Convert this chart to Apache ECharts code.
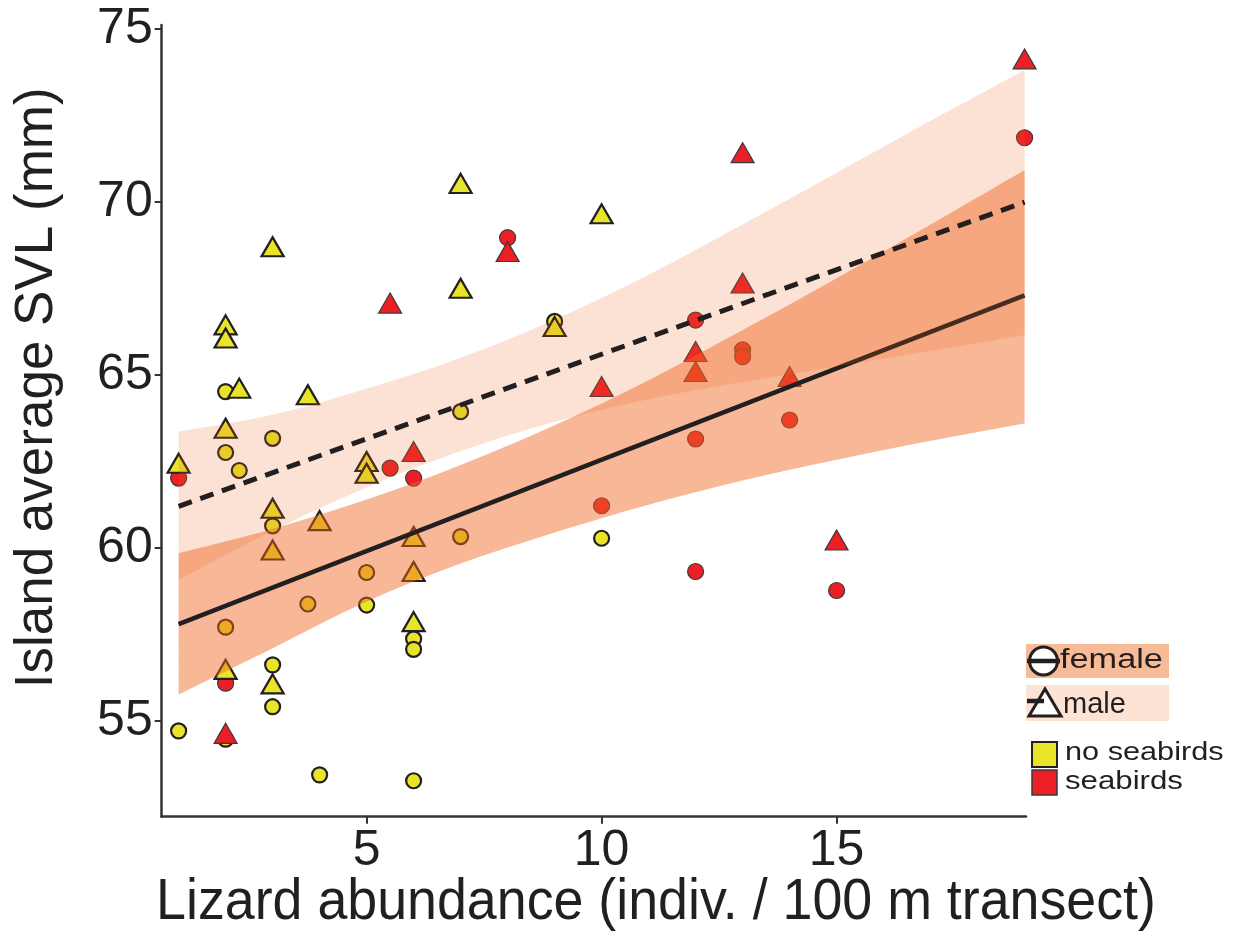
<!DOCTYPE html>
<html>
<head>
<meta charset="utf-8">
<script src="https://cdn.jsdelivr.net/npm/echarts@6/dist/echarts.min.js"></script>
<style>
html, body { margin: 0; padding: 0; background: #fff; }
#echart { width: 1243px; height: 937px; }
</style>
</head>
<body>
<div id="echart"></div>
<script>
var FONT = '"Liberation Sans", Arial, Helvetica, sans-serif';
var INK = '#231f20';
var YELLOW = '#e7e42a';
var RED = '#ec1f26';

// females (circles), [abundance, SVL]
var femaleNoSeabirds = [
    [1, 54.71], [2, 64.52], [2, 62.76], [2, 57.71], [2, 54.47], [2.29, 62.24],
    [3, 63.17], [3, 60.64], [3, 56.62], [3, 55.41], [3.75, 58.38], [4, 53.44],
    [5, 59.29], [5, 58.35], [6, 57.37], [6, 57.07], [6, 53.27], [7, 63.94],
    [7, 60.33], [9, 66.55], [10, 60.28]
];
var femaleSeabirds = [
    [1, 62.02], [2, 56.09], [5.5, 62.31], [6, 62.02], [8, 68.97], [10, 61.22],
    [12, 66.59], [12, 63.15], [12, 59.32], [13, 65.73], [13, 65.53], [14, 63.70],
    [15, 58.77], [19, 71.86]
];
// males (triangles)
var maleNoSeabirds = [
    [1, 62.45], [2, 66.45], [2, 66.07], [2, 63.46], [2, 56.49], [2.29, 64.62],
    [3, 68.71], [3, 61.15], [3, 59.94], [3, 56.07], [3.75, 64.43], [4, 60.79],
    [5, 62.50], [5, 62.16], [6, 60.33], [6, 59.32], [6, 57.87], [7, 70.54],
    [7, 67.51], [9, 66.40], [10, 69.66]
];
var maleSeabirds = [
    [2, 54.64], [5.5, 67.08], [6, 62.79], [8, 68.57], [10, 64.67], [12, 65.68],
    [12, 65.10], [13, 71.43], [13, 67.66], [14, 64.96], [15, 60.23], [19, 74.14]
];

// fitted lines (end points)
var fitX = [1, 19];
var femaleFit = [57.8, 67.3];
var maleFit = [61.2, 70.0];

// confidence bands, edges read at these abundances
var bandX = [1, 3, 5, 7, 9, 11, 13, 15, 17, 19];
var femaleLower = [55.76, 57.1, 58.45, 59.55, 60.45, 61.25, 61.95, 62.55, 63.1, 63.6];
var femaleUpper = [59.85, 60.55, 61.4, 62.4, 63.55, 64.85, 66.3, 67.8, 69.35, 70.93];
var maleLower = [59.08, 60.5, 61.75, 62.8, 63.65, 64.3, 64.8, 65.25, 65.7, 66.16];
var maleUpper = [63.37, 63.85, 64.6, 65.5, 66.6, 67.9, 69.35, 70.85, 72.35, 73.82];

var xTicks = [5, 10, 15];
var yTicks = [55, 60, 65, 70, 75];

function pairs(xs, ys) {
    var out = [];
    for (var i = 0; i < xs.length; i++) out.push([xs[i], ys[i]]);
    return out;
}

// smooth curve through pixel points (catmull-rom as cubic beziers)
function curveTo(pts) {
    var d = '';
    for (var i = 0; i < pts.length - 1; i++) {
        var p0 = pts[i > 0 ? i - 1 : i], p1 = pts[i], p2 = pts[i + 1];
        var p3 = pts[i + 2 < pts.length ? i + 2 : i + 1];
        var c1 = [p1[0] + (p2[0] - p0[0]) / 6, p1[1] + (p2[1] - p0[1]) / 6];
        var c2 = [p2[0] - (p3[0] - p1[0]) / 6, p2[1] - (p3[1] - p1[1]) / 6];
        d += ' C' + c1.join(',') + ' ' + c2.join(',') + ' ' + p2.join(',');
    }
    return d;
}

function band(lower, upper, fill, z) {
    return {
        type: 'custom',
        z: z,
        silent: true,
        data: [[bandX[0], lower[0]]],
        renderItem: function (params, api) {
            var up = [], lo = [];
            for (var i = 0; i < bandX.length; i++) up.push(api.coord([bandX[i], upper[i]]));
            for (var j = bandX.length - 1; j >= 0; j--) lo.push(api.coord([bandX[j], lower[j]]));
            var d = 'M' + up[0].join(',') + curveTo(up) + ' L' + lo[0].join(',') + curveTo(lo) + ' Z';
            return {type: 'path', shape: {pathData: d}, style: {fill: fill}};
        }
    };
}

function points(data, symbol, size, fill, border, bw) {
    return {
        type: 'scatter',
        z: 1,
        symbol: symbol,
        symbolSize: size,
        itemStyle: {color: fill, borderColor: border, borderWidth: bw, opacity: 1},
        data: data
    };
}

function legendText(text, x, y, size, sx) {
    return {
        type: 'text', x: x, y: y, scaleX: sx,
        style: {text: text, fontSize: size, fontFamily: FONT, fill: INK, verticalAlign: 'middle'}
    };
}

var myChart = echarts.init(document.getElementById('echart'));
var option = {
    backgroundColor: '#fff',
    animation: false,
    grid: {left: 161.7, right: 217, top: 25, bottom: 120.3},
    xAxis: {
        type: 'value',
        min: 0.64,
        max: 19.03,
        splitLine: {show: false},
        axisLine: {onZero: false, lineStyle: {color: '#333', width: 2.5}},
        axisTick: {customValues: xTicks, length: 7, lineStyle: {color: '#333', width: 2}},
        axisLabel: {customValues: xTicks, fontSize: 50, fontFamily: FONT, color: INK, margin: 10}
    },
    yAxis: {
        type: 'value',
        min: 52.23,
        max: 75.12,
        splitLine: {show: false},
        axisLine: {onZero: false, lineStyle: {color: '#333', width: 2.5}},
        axisTick: {customValues: yTicks, length: 7, lineStyle: {color: '#333', width: 2}},
        axisLabel: {customValues: yTicks, fontSize: 50, fontFamily: FONT, color: INK, margin: 9},
        name: 'Island average SVL (mm)',
        nameLocation: 'middle',
        nameGap: 98,
        nameTextStyle: {fontSize: 53, fontFamily: FONT, color: INK, padding: [0, 0, 0, 66]}
    },
    series: [
        points(femaleNoSeabirds, 'circle', 15, YELLOW, INK, 2.2),
        points(femaleSeabirds, 'circle', 16, RED, '#3a3a3a', 1.2),
        points(maleNoSeabirds, 'triangle', [22, 19], YELLOW, INK, 2.2),
        points(maleSeabirds, 'triangle', [23, 20], RED, '#3a3a3a', 1.2),
        band(femaleLower, femaleUpper, 'rgba(241,101,34,0.47)', 3),
        {
            type: 'line', z: 4, silent: true, symbol: 'none',
            lineStyle: {color: INK, width: 4.5, cap: 'butt'},
            data: pairs(fitX, femaleFit)
        },
        band(maleLower, maleUpper, 'rgba(241,101,34,0.19)', 5),
        {
            type: 'line', z: 6, silent: true, symbol: 'none',
            lineStyle: {color: INK, width: 5, type: [14, 9], cap: 'butt'},
            data: pairs(fitX, maleFit)
        }
    ],
    graphic: [
        {
            type: 'text', x: 656, y: 903, scaleX: 0.943,
            style: {
                text: 'Lizard abundance (indiv. / 100 m transect)', fontSize: 57, fontFamily: FONT,
                fill: INK, align: 'center', verticalAlign: 'middle'
            }
        },
        {type: 'rect', shape: {x: 1026, y: 644, width: 143, height: 34}, style: {fill: '#f8bb97'}},
        {type: 'rect', shape: {x: 1026, y: 685, width: 143, height: 36}, style: {fill: '#fde3d4'}},
        {type: 'circle', shape: {cx: 1043.5, cy: 661, r: 14}, style: {fill: '#fff', stroke: INK, lineWidth: 3}},
        {type: 'line', shape: {x1: 1027, y1: 661, x2: 1060, y2: 661}, style: {stroke: INK, lineWidth: 4.5}},
        legendText('female', 1060, 661, 27, 1.27),
        {type: 'polygon', shape: {points: [[1029, 716], [1061, 716], [1045, 689]]}, style: {fill: '#fff', stroke: INK, lineWidth: 3}},
        {type: 'line', shape: {x1: 1027, y1: 701, x2: 1044, y2: 701}, style: {stroke: INK, lineWidth: 4.5}},
        legendText('male', 1063, 705, 29, 1.0),
        {type: 'rect', shape: {x: 1032, y: 742, width: 25, height: 25}, style: {fill: YELLOW, stroke: INK, lineWidth: 2}},
        legendText('no seabirds', 1065, 753, 26, 1.18),
        {type: 'rect', shape: {x: 1032, y: 770, width: 25, height: 25}, style: {fill: RED, stroke: '#3a3a3a', lineWidth: 1.5}},
        legendText('seabirds', 1065, 782, 26, 1.2)
    ]
};
myChart.setOption(option);
</script>
</body>
</html>
